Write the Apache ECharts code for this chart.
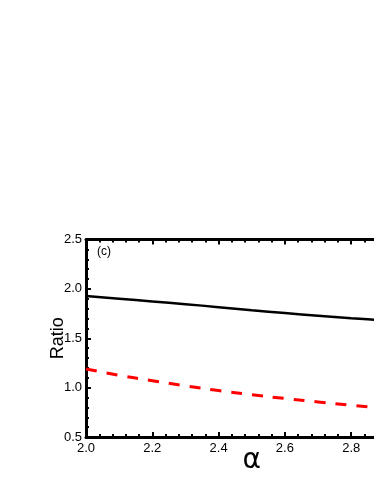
<!DOCTYPE html>
<html>
<head>
<meta charset="utf-8">
<script src="https://cdn.jsdelivr.net/npm/echarts@6/dist/echarts.min.js"></script>
<style>
html,body{margin:0;padding:0;background:#fff;overflow:hidden;}
#chart{width:374px;height:484px;}
</style>
</head>
<body>
<div id="chart"></div>
<script>
var alphaValues = [2.0, 2.1, 2.2, 2.3, 2.4, 2.5, 2.6, 2.7, 2.8, 2.9, 3.0];
var ratioSolid = [1.928, 1.900, 1.873, 1.845, 1.815, 1.783, 1.755, 1.728, 1.703, 1.682, 1.660];
var ratioDashed = [1.189, 1.125, 1.070, 1.018, 0.970, 0.928, 0.890, 0.855, 0.822, 0.790, 0.762];
var panelLabel = '(c)';
var xName = 'α';
var yName = 'Ratio';

function pairs(xs, ys) { return xs.map(function (x, i) { return [x, ys[i]]; }); }

var chart = echarts.init(document.getElementById('chart'), null, {renderer: 'canvas'});
var font = '"Liberation Sans", Arial, sans-serif';
var axisLine = {show: true, onZero: false, lineStyle: {color: '#000', width: 3}};
var tick = {show: true, inside: true, length: 5, lineStyle: {color: '#000', width: 2}};
var minorTick = {show: true, splitNumber: 5, length: 3, lineStyle: {color: '#000', width: 2}};

chart.setOption({
  animation: false,
  backgroundColor: '#fff',
  grid: {left: 86, top: 239.5, width: 331.5, height: 197.5, containLabel: false, outerBoundsMode: 'none'},
  xAxis: [{
    type: 'value', min: 2.0, max: 3.0, interval: 0.2, position: 'bottom',
    name: xName, nameLocation: 'middle', nameGap: 10, nameMoveOverlap: false,
    nameTextStyle: {fontSize: 28, color: '#000', fontFamily: '"DejaVu Sans", sans-serif', verticalAlign: 'top'},
    axisLine: axisLine, axisTick: tick, minorTick: minorTick, splitLine: {show: false},
    axisLabel: {color: '#000', fontSize: 13, fontFamily: font, margin: 5, formatter: function (v) { return v.toFixed(1); }}
  }, {
    type: 'value', min: 2.0, max: 3.0, interval: 0.2, position: 'top',
    axisLine: axisLine, axisTick: tick, minorTick: minorTick, splitLine: {show: false},
    axisLabel: {show: false}
  }],
  yAxis: [{
    type: 'value', min: 0.5, max: 2.5, interval: 0.5, position: 'left',
    name: yName, nameLocation: 'middle', nameGap: 19, nameRotate: 90, nameMoveOverlap: false,
    nameTextStyle: {fontSize: 18, color: '#000', fontFamily: font},
    axisLine: axisLine, axisTick: tick, minorTick: minorTick, splitLine: {show: false},
    axisLabel: {color: '#000', fontSize: 13, fontFamily: font, margin: 4, formatter: function (v) { return v.toFixed(1); }}
  }, {
    type: 'value', min: 0.5, max: 2.5, interval: 0.5, position: 'right',
    axisLine: axisLine, axisTick: tick, minorTick: minorTick, splitLine: {show: false},
    axisLabel: {show: false}
  }],
  graphic: [{
    type: 'text', left: 97, top: 246,
    style: {text: panelLabel, fontSize: 12, fill: '#000', fontFamily: font}
  }],
  series: [{
    type: 'line', data: pairs(alphaValues, ratioSolid), smooth: true, showSymbol: false,
    lineStyle: {color: '#000', width: 2.5, type: 'solid'}, clip: true
  }, {
    type: 'line', data: pairs(alphaValues, ratioDashed), smooth: true, showSymbol: false,
    lineStyle: {color: '#ff0000', width: 3, type: [11, 10]}, clip: true
  }]
});
</script>
</body>
</html>
